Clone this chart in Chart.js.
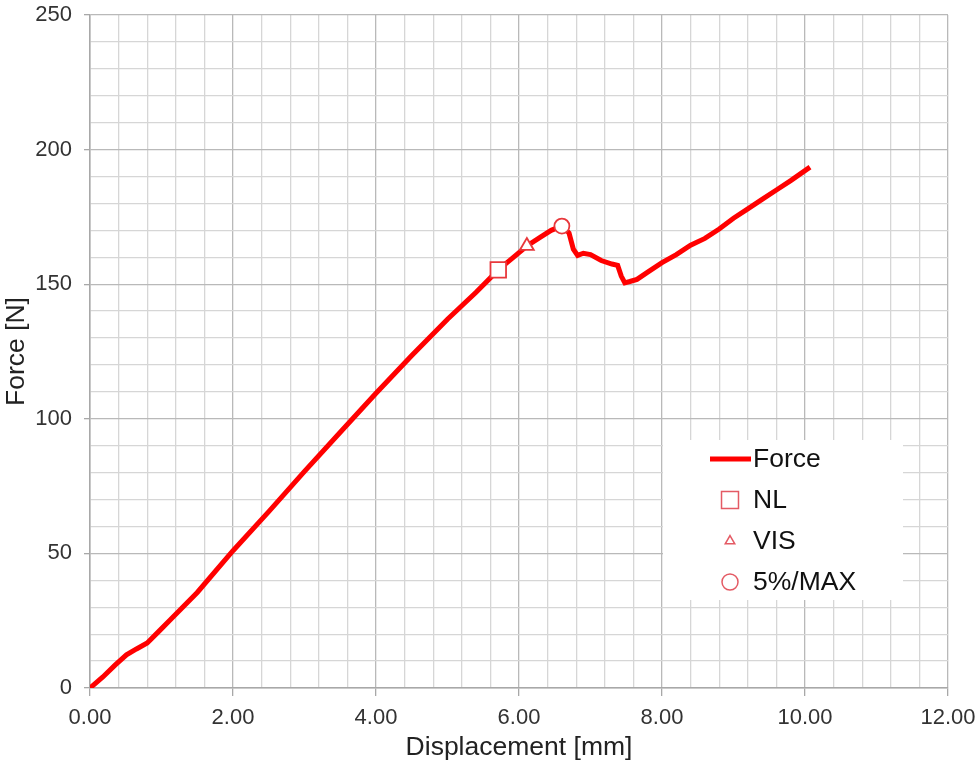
<!DOCTYPE html>
<html>
<head>
<meta charset="utf-8">
<script src="https://cdn.jsdelivr.net/npm/chart.js@4/dist/chart.umd.min.js"></script>
<style>
  body { margin: 0; background: #fff; }
  canvas { display: block; }
</style>
</head>
<body>
<canvas id="force-chart" width="977" height="765"></canvas>
<script>
// displacement [mm] / force [N]
const displacement = [
  0, 0.18, 0.35, 0.51, 0.65, 0.8, 0.98, 1.12, 1.5, 2.0, 2.5, 3.0, 3.5, 4.0, 4.5, 5.0, 5.4, 5.71,
  5.9, 6.11, 6.3, 6.45, 6.6, 6.7, 6.76, 6.82, 6.9, 7.0, 7.15, 7.3, 7.38, 7.43, 7.48, 7.55, 7.65,
  7.8, 8.0, 8.2, 8.4, 8.6, 8.8, 9.0, 9.2, 9.4, 9.6, 9.8, 10.07
];
const force = [
  0, 4.1, 8.5, 12.3, 14.5, 16.7, 21.5, 25.3, 35.5, 51, 65.5, 80.5, 95, 109.5, 123.5, 137, 147, 155.3,
  159.5, 164.2, 167.5, 170, 171.6, 169, 163, 160.7, 161.5, 161, 158.8, 157.5, 157, 153, 150.5, 151, 151.8,
  154.5, 158, 161, 164.5, 167, 170.5, 174.5, 178, 181.5, 185, 188.5, 193.5
];

// characteristic points
const markerNames = ["NL", "VIS", "5%/MAX"];
const markerX = [5.71, 6.11, 6.60];
const markerY = [155.3, 164.2, 171.6];
const markerStyles = ["rect", "triangle", "circle"];
const markerRadius = [11, 8, 7.5];
const legendRadius = [12, 5.5, 8];

const xTitle = "Displacement [mm]";
const yTitle = "Force [N]";

const FONT = "'Liberation Sans', Arial, sans-serif";

const curve = displacement.map((x, i) => ({ x: x, y: force[i] }));

const datasets = [
  {
    label: "Force",
    data: curve,
    showLine: true,
    borderColor: "#ff0000",
    backgroundColor: "#ff0000",
    borderWidth: 5,
    pointRadius: 0,
    tension: 0,
    order: 2
  }
];
markerNames.forEach((name, i) => {
  datasets.push({
    label: name,
    data: [{ x: markerX[i], y: markerY[i] }],
    pointStyle: markerStyles[i],
    pointRadius: markerRadius[i],
    pointBorderWidth: 1.8,
    pointBorderColor: "#e8383c",
    pointBackgroundColor: "#ffffff",
    order: 1
  });
});

// boxed legend inside the plot, drawn over the grid
const boxLegend = {
  id: "boxLegend",
  beforeDatasetsDraw(chart) {
    const c = chart.ctx;
    const a = chart.chartArea;
    const left = a.left + 573, top = a.top + 425;
    c.save();
    c.fillStyle = "#ffffff";
    c.fillRect(left, top, 240, 160);
    c.font = "26.5px " + FONT;
    c.textBaseline = "middle";
    c.textAlign = "left";
    chart.data.datasets.forEach((ds, i) => {
      const y = top + 19 + i * 41;
      const mx = left + 67;
      if (i === 0) {
        c.strokeStyle = ds.borderColor;
        c.lineWidth = 5;
        c.beginPath();
        c.moveTo(left + 47, y);
        c.lineTo(left + 88, y);
        c.stroke();
      } else {
        c.fillStyle = "#ffffff";
        c.strokeStyle = "#e45a64";
        c.lineWidth = 1.5;
        Chart.helpers.drawPoint(c, {
          pointStyle: ds.pointStyle,
          radius: legendRadius[i - 1],
          rotation: 0,
          borderWidth: 1.5
        }, mx, y);
      }
      c.fillStyle = "#111111";
      c.fillText(ds.label, left + 90, y + 1);
    });
    c.restore();
  }
};

const isMajor = (v, step) => Math.round(v * 10) % Math.round(step * 10) === 0;

new Chart(document.getElementById("force-chart").getContext("2d"), {
  type: "scatter",
  data: { datasets: datasets },
  plugins: [boxLegend],
  options: {
    responsive: false,
    animation: false,
    layout: { padding: { top: 15, right: 29, left: 0, bottom: 0 } },
    plugins: {
      legend: { display: false },
      tooltip: { enabled: false }
    },
    scales: {
      x: {
        type: "linear",
        min: 0,
        max: 12,
        afterFit: (s) => { s.height = 77; s.paddingLeft = 0; s.paddingRight = 0; },
        border: { color: "#a8a8a8", width: 1.5 },
        grid: {
          color: (ctx) => isMajor(ctx.tick.value, 2) ? "#b9b9b9" : "#d6d6d6",
          tickColor: (ctx) => isMajor(ctx.tick.value, 2) ? "#a8a8a8" : "rgba(0,0,0,0)",
          lineWidth: 1.3,
          tickLength: 8
        },
        ticks: {
          stepSize: 0.4,
          autoSkip: false,
          maxRotation: 0,
          padding: 9,
          color: "#333333",
          font: { family: FONT, size: 22 },
          callback: (v) => isMajor(v, 2) ? Number(v).toFixed(2) : ""
        },
        title: {
          display: true,
          text: xTitle,
          color: "#222222",
          font: { family: FONT, size: 26.5 },
          padding: { top: 0, bottom: 1 }
        }
      },
      y: {
        type: "linear",
        min: 0,
        max: 250,
        afterFit: (s) => { s.width = 90; s.paddingTop = 0; s.paddingBottom = 0; },
        border: { color: "#a8a8a8", width: 1.5 },
        grid: {
          color: (ctx) => isMajor(ctx.tick.value, 50) ? "#b9b9b9" : "#d6d6d6",
          tickColor: (ctx) => isMajor(ctx.tick.value, 50) ? "#a8a8a8" : "rgba(0,0,0,0)",
          lineWidth: 1.3,
          tickLength: 6
        },
        ticks: {
          stepSize: 10,
          autoSkip: false,
          padding: 12,
          color: "#333333",
          font: { family: FONT, size: 22 },
          callback: (v) => isMajor(v, 50) ? String(v) : ""
        },
        title: {
          display: true,
          text: yTitle,
          color: "#222222",
          font: { family: FONT, size: 26.5 },
          padding: { top: 1, bottom: 0 }
        }
      }
    }
  }
});
</script>
</body>
</html>
